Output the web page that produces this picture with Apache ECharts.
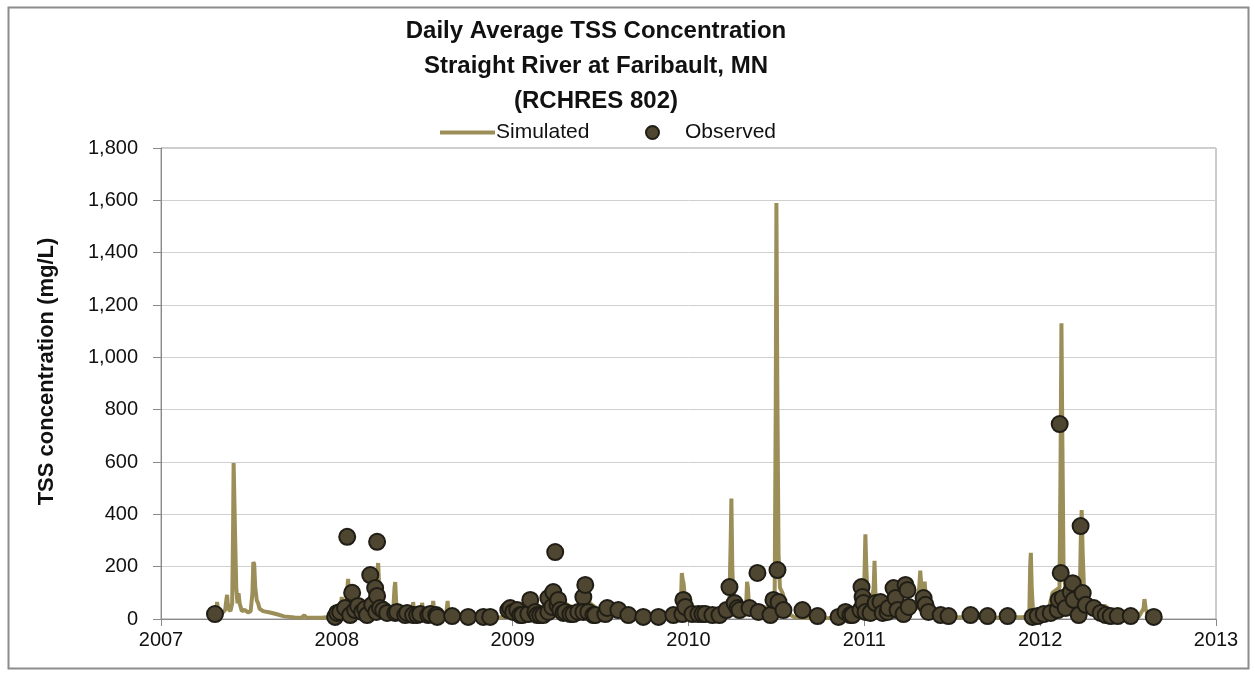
<!DOCTYPE html>
<html>
<head>
<meta charset="utf-8">
<script src="https://cdn.jsdelivr.net/npm/echarts@6/dist/echarts.min.js"></script>
<style>
html,body{margin:0;padding:0;background:#fff;}
#chart{width:1255px;height:676px;}
</style>
</head>
<body>
<div id="chart"></div>
<script>
// ---- data (x as decimal year) ----
const titleLines = ['Daily Average TSS Concentration', 'Straight River at Faribault, MN', '(RCHRES 802)'];
const yAxisTitle = 'TSS concentration (mg/L)';
const seriesNames = ['Simulated', 'Observed'];

const simYears = [
  2007.290, 2007.305, 2007.316, 2007.319, 2007.325, 2007.345, 2007.365, 2007.373, 2007.376, 2007.382,
  2007.395, 2007.405, 2007.410, 2007.413, 2007.418, 2007.422, 2007.428, 2007.435, 2007.441, 2007.447,
  2007.460, 2007.475, 2007.485, 2007.495, 2007.510, 2007.520, 2007.525, 2007.530, 2007.536, 2007.545,
  2007.552, 2007.560, 2007.580, 2007.620, 2007.660, 2007.700, 2007.760, 2007.800, 2007.815, 2007.825,
  2007.900, 2007.905, 2007.912, 2007.960,
  2007.990, 2008.020, 2008.028, 2008.034, 2008.050, 2008.060, 2008.064, 2008.070, 2008.080, 2008.100,
  2008.130, 2008.160, 2008.190, 2008.220, 2008.230, 2008.235, 2008.241, 2008.250, 2008.280, 2008.320,
  2008.328, 2008.332, 2008.338, 2008.360, 2008.400, 2008.430, 2008.434, 2008.440, 2008.480, 2008.485,
  2008.492, 2008.540, 2008.548, 2008.556, 2008.620, 2008.630, 2008.637, 2008.700, 2008.800, 2008.900,
  2008.950,
  2009.000, 2009.080, 2009.120, 2009.180, 2009.220, 2009.240, 2009.260, 2009.280, 2009.320, 2009.380,
  2009.420, 2009.440, 2009.500, 2009.560, 2009.620, 2009.700, 2009.780, 2009.820, 2009.840, 2009.900,
  2009.955, 2009.962, 2009.967, 2009.972, 2009.980, 2009.995,
  2010.030, 2010.080, 2010.130, 2010.180, 2010.232, 2010.240, 2010.244, 2010.249, 2010.256, 2010.300,
  2010.328, 2010.333, 2010.338, 2010.345, 2010.400, 2010.460, 2010.490, 2010.496, 2010.500, 2010.505,
  2010.512, 2010.520, 2010.535, 2010.550, 2010.570, 2010.600, 2010.700, 2010.800, 2010.900, 2010.960,
  2010.995, 2011.002, 2011.006, 2011.011, 2011.020, 2011.040, 2011.053, 2011.058, 2011.063, 2011.075,
  2011.120, 2011.180, 2011.250, 2011.300, 2011.312, 2011.318, 2011.325, 2011.336, 2011.343, 2011.350,
  2011.370, 2011.420, 2011.500, 2011.600, 2011.700, 2011.800, 2011.900,
  2011.938, 2011.943, 2011.947, 2011.952, 2011.960, 2011.990, 2012.030, 2012.050, 2012.070, 2012.090,
  2012.110, 2012.116, 2012.121, 2012.126, 2012.133, 2012.145, 2012.170, 2012.200, 2012.225, 2012.231,
  2012.236, 2012.242, 2012.250, 2012.280, 2012.330, 2012.370, 2012.400, 2012.450, 2012.500, 2012.560,
  2012.588, 2012.593, 2012.600, 2012.615, 2012.650, 2012.690
];
const simValues = [
  5, 15, 40, 65, 30, 20, 35, 80, 92, 40,
  30, 60, 350, 596, 590, 300, 120, 60, 99, 60,
  30, 35, 42, 25, 30, 100, 218, 210, 120, 70,
  61, 40, 30, 25, 18, 10, 6, 5, 14, 6,
  5, 12, 5, 8,
  15, 30, 84, 45, 40, 120, 153, 90, 60, 45,
  40, 50, 45, 60, 180, 214, 120, 60, 30, 25,
  120, 141, 60, 20, 12, 15, 65, 15, 12, 62,
  12, 15, 69, 15, 10, 69, 10, 6, 5, 5,
  8,
  10, 20, 30, 50, 80, 60, 90, 70, 50, 40,
  90, 60, 30, 25, 15, 10, 8, 30, 10, 12,
  20, 176, 150, 137, 70, 40,
  30, 25, 30, 35, 50, 300, 460, 200, 60, 40,
  50, 142, 120, 40, 30, 50, 80, 800, 1590, 900,
  250, 120, 99, 60, 20, 8, 3, 4, 6, 10,
  15, 200, 324, 200, 60, 50, 120, 222, 100, 50,
  40, 45, 50, 40, 120, 185, 120, 100, 143, 80,
  30, 15, 8, 6, 5, 5, 8,
  10, 200, 253, 120, 20, 10, 15, 40, 100, 110,
  120, 600, 1130, 700, 200, 100, 60, 50, 80, 300,
  416, 250, 100, 60, 50, 50, 30, 15, 10, 8,
  40, 76, 40, 10, 5, 5
];

const obsYears = [
  2007.307,
  2007.990, 2008.002, 2008.019, 2008.047, 2008.059, 2008.076, 2008.087, 2008.104, 2008.121, 2008.144,
  2008.161, 2008.172, 2008.190, 2008.201, 2008.218, 2008.224, 2008.229, 2008.229, 2008.246, 2008.264,
  2008.286, 2008.332, 2008.343, 2008.389, 2008.400, 2008.434, 2008.457, 2008.474, 2008.520, 2008.531,
  2008.565, 2008.571, 2008.656, 2008.747, 2008.833, 2008.872,
  2008.975, 2008.986, 2009.003, 2009.026, 2009.043, 2009.055, 2009.089, 2009.100, 2009.129, 2009.140,
  2009.157, 2009.174, 2009.203, 2009.203, 2009.225, 2009.231, 2009.242, 2009.254, 2009.259, 2009.271,
  2009.288, 2009.299, 2009.328, 2009.345, 2009.373, 2009.402, 2009.413, 2009.402, 2009.430, 2009.459,
  2009.470, 2009.527, 2009.538, 2009.601, 2009.658, 2009.743, 2009.829, 2009.914, 2009.965, 2009.971,
  2009.982, 2010.022, 2010.056, 2010.079, 2010.096, 2010.136, 2010.176, 2010.216, 2010.233, 2010.262,
  2010.279, 2010.290, 2010.347, 2010.392, 2010.398, 2010.466, 2010.483, 2010.506, 2010.512, 2010.540,
  2010.648, 2010.734, 2010.853, 2010.893, 2010.921, 2010.933,
  2010.978, 2010.984, 2010.990, 2010.995, 2011.007, 2011.035, 2011.064, 2011.092, 2011.104, 2011.132,
  2011.138, 2011.166, 2011.178, 2011.189, 2011.223, 2011.234, 2011.246, 2011.252, 2011.337, 2011.348,
  2011.365, 2011.434, 2011.479, 2011.604, 2011.701, 2011.815,
  2011.957, 2011.986, 2012.020, 2012.060, 2012.100, 2012.105, 2012.111, 2012.117, 2012.128, 2012.145,
  2012.174, 2012.185, 2012.191, 2012.219, 2012.230, 2012.242, 2012.259, 2012.305, 2012.344, 2012.373,
  2012.401, 2012.441, 2012.515, 2012.646
];
const obsValues = [
  19,
  8, 23, 27, 42, 314, 15, 100, 34, 50, 27,
  38, 15, 168, 54, 118, 27, 295, 88, 42, 34,
  23, 23, 27, 15, 23, 15, 15, 19, 15, 19,
  15, 8, 11, 8, 8, 8,
  34, 42, 27, 34, 15, 15, 19, 73, 27, 15,
  15, 15, 80, 27, 46, 103, 256, 54, 73, 34,
  23, 27, 19, 19, 27, 84, 130, 27, 27, 15,
  15, 19, 42, 34, 15, 8, 8, 15, 19, 73,
  46, 19, 19, 19, 19, 15, 15, 34, 122, 61,
  42, 34, 42, 176, 27, 15, 73, 187, 65, 34,
  34, 11, 8, 27, 15, 15,
  34, 122, 84, 61, 27, 23, 61, 65, 23, 27,
  42, 118, 80, 34, 19, 130, 111, 46, 80, 54,
  27, 15, 11, 15, 11, 11,
  8, 11, 19, 23, 34, 73, 745, 176, 80, 42,
  103, 137, 73, 15, 355, 99, 54, 42, 23, 15,
  11, 11, 11, 8
];

const xMin = 2007, xMax = 2013, xStep = 1;
const yMin = 0, yMax = 1800, yStep = 200;

// ---- chart ----
const simData = simYears.map((x, i) => [x, simValues[i]]);
const obsData = obsYears.map((x, i) => [x, obsValues[i]]);

const chart = echarts.init(document.getElementById('chart'), null, {renderer: 'canvas'});
const FONT = 'Liberation Sans, Arial, sans-serif';
const simColor = '#9b8e58';
const obsFill = '#4e4631';
const obsBorder = '#1f1d15';

chart.setOption({
  animation: false,
  backgroundColor: '#ffffff',
  textStyle: {fontFamily: FONT},
  title: {
    text: titleLines.join('\n'),
    left: 591,
    textAlign: 'center',
    top: 9,
    textStyle: {fontFamily: FONT, fontSize: 24, fontWeight: 'bold', color: '#111', lineHeight: 35}
  },
  legend: [{
    data: [{name: seriesNames[0], icon: 'rect'}],
    left: 435, top: 117,
    itemWidth: 55, itemHeight: 4,
    textStyle: {fontFamily: FONT, fontSize: 21, color: '#111', padding: [0, 0, 0, -4]}
  }, {
    data: [{name: seriesNames[1], icon: 'circle'}],
    left: 640, top: 117,
    itemWidth: 13, itemHeight: 13,
    textStyle: {fontFamily: FONT, fontSize: 21, color: '#111', padding: [0, 0, 0, 21]}
  }],
  grid: {left: 161, right: 39, top: 148, bottom: 57, show: true, borderColor: '#9a9a9a', borderWidth: 1},
  xAxis: {
    type: 'value', min: xMin, max: xMax, interval: xStep,
    axisLine: {show: true, lineStyle: {color: '#8a8a8a', width: 1}},
    axisTick: {show: true, length: 7, lineStyle: {color: '#8a8a8a'}},
    splitLine: {show: false},
    axisLabel: {fontFamily: FONT, fontSize: 20, color: '#111', margin: 11, formatter: v => String(v)}
  },
  yAxis: {
    type: 'value', min: yMin, max: yMax, interval: yStep,
    name: yAxisTitle, nameLocation: 'middle', nameGap: 103,
    nameTextStyle: {fontFamily: FONT, fontSize: 22, fontWeight: 'bold', color: '#111', padding: [0, 0, 0, 24]},
    axisLine: {show: true, lineStyle: {color: '#8a8a8a', width: 1}},
    axisTick: {show: true, length: 8, lineStyle: {color: '#8a8a8a'}},
    splitLine: {show: true, lineStyle: {color: '#d0d0d0', width: 1}},
    axisLabel: {fontFamily: FONT, fontSize: 20, color: '#111', margin: 23,
      formatter: v => v.toLocaleString('en-US')}
  },
  series: [{
    name: seriesNames[0], type: 'line', data: simData,
    showSymbol: false, symbol: 'none',
    lineStyle: {color: simColor, width: 4},
    itemStyle: {color: simColor},
    z: 2
  }, {
    name: seriesNames[1], type: 'scatter', data: obsData,
    symbol: 'circle', symbolSize: 16,
    itemStyle: {color: obsFill, borderColor: obsBorder, borderWidth: 2, opacity: 1},
    z: 3
  }],
  graphic: [{
    type: 'rect', silent: true, z: -1,
    shape: {x: 8.5, y: 7.5, width: 1240, height: 661},
    style: {fill: 'none', stroke: '#8c8c8c', lineWidth: 2}
  }]
});
</script>
</body>
</html>
